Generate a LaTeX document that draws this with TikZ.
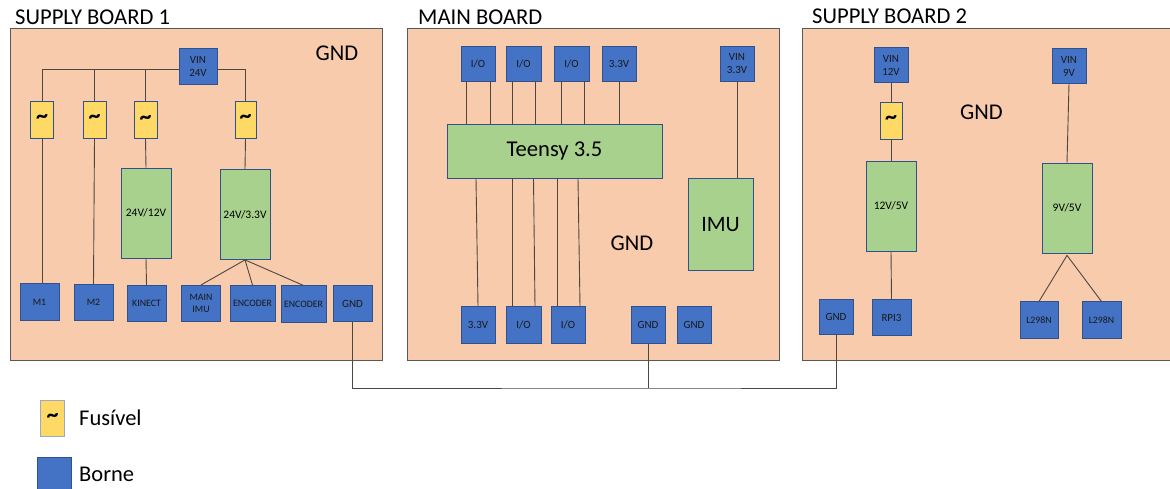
\documentclass[tikz,border=0pt]{standalone}
\usepackage{fontspec}
\setmainfont{Carlito}
\definecolor{boardfill}{HTML}{F8CBAD}
\definecolor{bornefill}{HTML}{4472C4}
\definecolor{borneline}{HTML}{2F528F}
\definecolor{fusefill}{HTML}{FFD966}
\definecolor{convfill}{HTML}{A9D18E}
\definecolor{wirecolor}{HTML}{4F4640}
\tikzset{
    board/.style={draw=black!65, fill=boardfill, line width=1pt, minimum width=372pt, minimum height=332pt},
    borne/.style={draw=borneline, fill=bornefill, line width=0.6pt, inner sep=0pt, align=center,
        minimum width=39pt, minimum height=36.5pt, font=\fontsize{11}{13}\selectfont, text=black!90},
    smalltext/.style={font=\fontsize{9.8}{12.5}\selectfont},
    fuse/.style={draw=borneline, fill=fusefill, line width=0.8pt, inner sep=0pt,
        minimum width=23pt, minimum height=37pt, font=\bfseries\fontsize{24}{24}\selectfont},
    conv/.style={draw=borneline, fill=convfill, line width=0.8pt, inner sep=0pt, align=center,
        minimum width=50pt, minimum height=90pt, font=\fontsize{11.5}{14}\selectfont},
    wire/.style={draw=wirecolor, line width=0.9pt},
    bigtext/.style={inner sep=0pt, font=\fontsize{22.5}{26}\selectfont},
    title/.style={inner sep=0pt, anchor=base west, font=\fontsize{22.6}{26}\selectfont}
}
\begin{document}
\begin{tikzpicture}[x=1pt, y=-1pt]
    \useasboundingbox (0,0) rectangle (1170,488);
    \clip (0,0) rectangle (1170,488);

    % Placas
    \node[board] (board1) at (196.5,194) {};
    \node[board] (board2) at (593,194) {};
    \node[board, minimum width=373pt] (board3) at (988.5,194) {};
    \node[title] (title1) at (15,24) {SUPPLY BOARD 1};
    \node[title] (title2) at (418,24) {MAIN BOARD};
    \node[title] (title3) at (812,23) {SUPPLY BOARD 2};
    \node[bigtext] (gndtext1) at (337,53.5) {GND};
    \node[bigtext] (gndtext2) at (632,243.5) {GND};
    \node[bigtext] (gndtext3) at (981.5,112) {GND};

    % Supply board 1
    \node[borne, minimum width=38pt] (vin24) at (198,66.5) {VIN\\24V};
    \node[fuse] (fuse1) at (42,119.5) {\textasciitilde};
    \node[fuse] (fuse2) at (94.5,119.5) {\textasciitilde};
    \node[fuse] (fuse3) at (145.5,120) {\textasciitilde};
    \node[fuse, minimum width=21pt] (fuse4) at (245.5,119.5) {\textasciitilde};
    \node[conv] (conv12) at (146,213) {24V/12V};
    \node[conv] (conv33) at (245,214.5) {24V/3.3V};
    \node[borne, smalltext] (m1) at (39.5,302) {M1};
    \node[borne, smalltext] (m2) at (93.5,302.5) {M2};
    \node[borne, smalltext] (kinect) at (146.5,303.5) {KINECT};
    \node[borne, smalltext] (mainimu) at (201,303.5) {MAIN\\IMU};
    \node[borne, smalltext, minimum width=45pt] (enc1) at (252.5,303.5) {ENCODER};
    \node[borne, smalltext, minimum width=45pt] (enc2) at (303.5,304) {ENCODER};
    \node[borne] (gnd1) at (352.5,303.5) {GND};

    \foreach \f in {fuse1,fuse2,fuse3} {
        \draw[wire] (\f.north) |- ([yshift=-2.5pt]vin24.west);
    }
    \draw[wire] (fuse4.north) |- ([yshift=-2.5pt]vin24.east);
    \draw[wire] (fuse1.south) -- (fuse1.south |- m1.north);
    \draw[wire] (fuse2.south) -- (m2.north);
    \draw[wire] (fuse3.south) -- (conv12.north);
    \draw[wire] (fuse4.south) -- (conv33.north);
    \draw[wire] (conv12.south) -- (kinect.north);
    \foreach \n in {mainimu,enc1,enc2} {
        \draw[wire] (conv33.south) -- (\n.north);
    }

    % Main board
    \node[borne, minimum width=34pt, minimum height=35pt] (iotop1) at (478,63.5) {I/O};
    \node[borne, minimum width=35pt, minimum height=35pt] (iotop2) at (523.5,63.5) {I/O};
    \node[borne, minimum width=35pt, minimum height=35pt] (iotop3) at (571.5,63.5) {I/O};
    \node[borne, minimum width=34pt, minimum height=35pt] (v33top) at (619,63.5) {3.3V};
    \node[borne, minimum width=34pt, minimum height=35pt] (vin33) at (737,63.5) {VIN\\3.3V};
    \node[conv, minimum width=215pt, minimum height=54pt, font=\fontsize{22.6}{26}\selectfont] (teensy) at (554.5,151) {Teensy 3.5};
    \node[conv, minimum width=65pt, minimum height=92pt, font=\fontsize{22}{26}\selectfont] (imu) at (720.5,224.5) {IMU};
    \node[borne, minimum width=34pt] (v33bot) at (478,325) {3.3V};
    \node[borne, minimum width=35pt] (iobot1) at (523.5,325) {I/O};
    \node[borne, minimum width=34pt] (iobot2) at (568,325) {I/O};
    \node[borne, minimum width=34pt] (gnd2) at (648,325) {GND};
    \node[borne, minimum width=34pt] (gndfree) at (694,325) {GND};

    \foreach \n/\dx in {iotop1/-12,iotop1/12,iotop2/-11.5,iotop2/11.5,iotop3/-10.5,iotop3/12.5,v33top/0} {
        \draw[wire] ([xshift=\dx pt]\n.south) -- ([xshift=\dx pt]\n.south |- teensy.north);
    }
    \foreach \n/\a/\b in {v33bot/-2/0,iobot1/-11.5/-11.5,iobot1/10/11.5,iobot2/-11/-11,iobot2/10/12} {
        \draw[wire] ([xshift=\a pt]\n.north |- teensy.south) -- ([xshift=\b pt]\n.north);
    }
    \draw[wire] (vin33.south) -- (vin33.south |- imu.north);

    % Supply board 2
    \node[borne, minimum width=34pt, minimum height=35pt] (vin12) at (891,65) {VIN\\12V};
    \node[fuse, minimum width=22pt] (fuse5) at (891,120.5) {\textasciitilde};
    \node[conv] (conv125) at (891,206) {12V/5V};
    \node[borne] (rpi) at (891.5,317.5) {RPI3};
    \node[borne, minimum width=34pt, minimum height=35pt] (gnd3) at (836,316.5) {GND};
    \node[borne, minimum width=34pt, minimum height=35pt] (vin9) at (1069,66) {VIN\\9V};
    \node[conv] (conv95) at (1067,208) {9V/5V};
    \node[borne, smalltext, minimum width=38pt] (motor1) at (1039,320) {L298N};
    \node[borne, smalltext] (motor2) at (1101.5,320) {L298N};

    \draw[wire] (vin12.south) -- (fuse5.north);
    \draw[wire] (fuse5.south) -- (conv125.north);
    \draw[wire] (conv125.south) -- (rpi.north);
    \draw[wire] (vin9.south) -- (conv95.north);
    \foreach \n in {motor1,motor2} {
        \draw[wire] ([yshift=-2pt]conv95.south) -- (\n.north);
    }

    % Ligacao dos GND
    \coordinate (gndbus) at (648,388);
    \draw[wire] (gnd1.south) |- (gndbus) -| (gnd3.south);
    \draw[wire] (gnd2.south) -- (gndbus);

    % Legenda
    \node[fuse, minimum width=23.5pt, minimum height=36pt, draw=borneline!50] (fusekey) at (52.5,418) {\textasciitilde};
    \node[bigtext, anchor=west] (fusetext) at (79,418) {Fusível};
    \node[borne, minimum width=34pt, minimum height=36pt] (bornekey) at (54,475) {};
    \node[bigtext, anchor=west] (bornetext) at (79,474) {Borne};
\end{tikzpicture}
\end{document}
